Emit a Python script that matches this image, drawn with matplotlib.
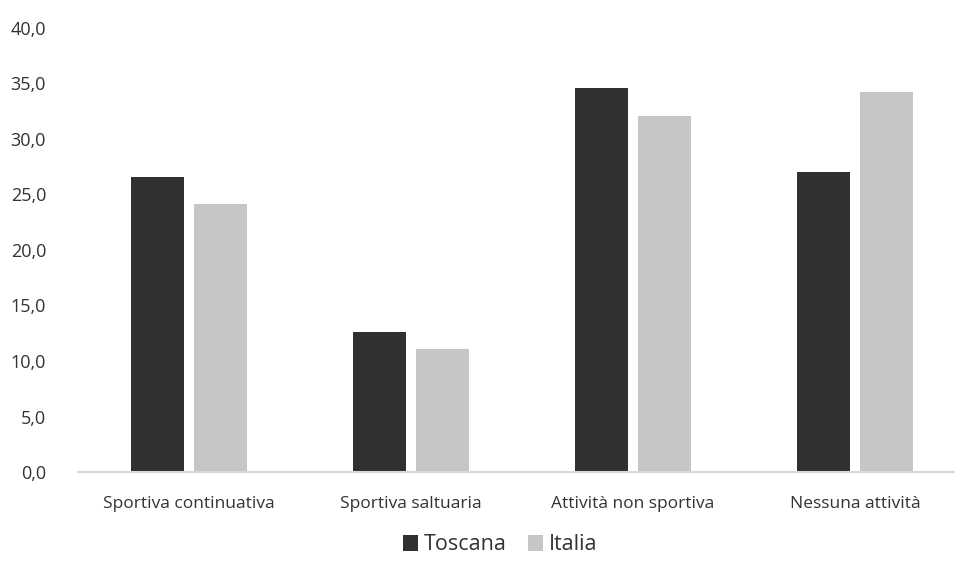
import numpy as np
import matplotlib
matplotlib.use('agg')
import matplotlib.pyplot as plt
from matplotlib.ticker import FuncFormatter, MultipleLocator

categorie = ['Sportiva continuativa', 'Sportiva saltuaria', 'Attività non sportiva', 'Nessuna attività']
toscana = [26.6, 12.6, 34.6, 27.0]
italia = [24.1, 11.1, 32.1, 34.2]

plt.rcParams['font.family'] = ['Open Sans', 'DejaVu Sans']

fig = plt.figure(figsize=(9.55, 5.69), dpi=100)
ax = fig.add_axes([78/955, 1-472/569, 888/955, 444/569])

x = np.arange(len(categorie))
w = 0.235
ax.bar(x - 0.142, toscana, w, color='#303030', label='Toscana', zorder=2)
ax.bar(x + 0.142, italia, w, color='#c6c6c6', label='Italia', zorder=2)

ax.set_xlim(-0.5, len(categorie) - 0.5)
ax.set_ylim(0, 40)
ax.yaxis.set_major_locator(MultipleLocator(5))
ax.yaxis.set_major_formatter(FuncFormatter(lambda v, p: ('%.1f' % v).replace('.', ',')))
ax.set_xticks(x)
ax.set_xticklabels(categorie)

for s in ['top', 'right', 'left']:
	ax.spines[s].set_visible(False)
ax.spines['bottom'].set_color('#d9d9d9')
ax.spines['bottom'].set_linewidth(1.5)
ax.tick_params(axis='both', length=0, colors='#333333')
ax.tick_params(axis='y', pad=23, labelsize=13)
ax.tick_params(axis='x', pad=17, labelsize=12.5)

ax.legend(loc='center', bbox_to_anchor=(500/955, 1-545/569), bbox_transform=fig.transFigure,
	ncol=2, frameon=False, fontsize=15.5, handlelength=0.7, handleheight=0.7,
	handletextpad=0.25, columnspacing=1.0, labelcolor='#333333')

plt.savefig('out.png', dpi=100)
plt.close()
